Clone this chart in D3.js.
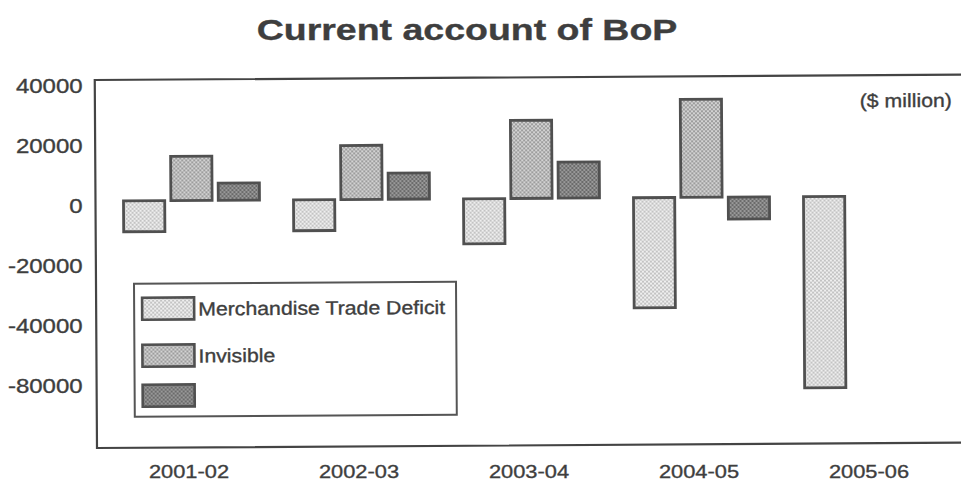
<!DOCTYPE html>
<html>
<head>
<meta charset="utf-8">
<script src="https://cdn.jsdelivr.net/npm/d3@7"></script>
<style>
  html, body { margin: 0; padding: 0; background: #fff; }
  svg { display: block; font-family: "Liberation Sans", Arial, sans-serif; }
  .ink { fill: #3e3e3e; stroke: #3e3e3e; stroke-width: 0.35px; }
</style>
</head>
<body>
<div id="chart"></div>
<script>
// values ($ million)
const years = ['2001-02', '2002-03', '2003-04', '2004-05', '2005-06'];
const merchandise = [-10300, -10300, -15000, -36700, -63700];
const invisible = [14700, 18000, 26000, 32700, null];
const currentAccount = [5700, 8700, 12000, -7300, null];
const seriesNames = ['Merchandise Trade Deficit', 'Invisible', ''];
const tickValues = [40000, 20000, 0, -20000, -40000, -60000];
const tickLabels = ['40000', '20000', '0', '-20000', '-40000', '-80000'];

const W = 961, H = 481;
const FRAME = { left: 97, top: 80, bottom: 448, right: 961 };

const svg = d3.select('#chart').append('svg')
  .attr('width', W).attr('height', H);

// dotted screen fills, like the printed original
const defs = svg.append('defs');
const screens = [
  { id: 'p-merch', bg: '#efefef', dot: '#8c8c8c', r: 0.8 },
  { id: 'p-invis', bg: '#9c9c9c', dot: '#e6e6e6', r: 1.0 },
  { id: 'p-ca',    bg: '#6a6a6a', dot: '#b0b0b0', r: 0.9 }
];
screens.forEach(s => {
  const p = defs.append('pattern').attr('id', s.id)
    .attr('patternUnits', 'userSpaceOnUse').attr('width', 4).attr('height', 4);
  p.append('rect').attr('width', 4).attr('height', 4).attr('fill', s.bg);
  p.append('circle').attr('cx', 1).attr('cy', 1).attr('r', s.r).attr('fill', s.dot);
  p.append('circle').attr('cx', 3).attr('cy', 3).attr('r', s.r).attr('fill', s.dot);
});
const fills = ['url(#p-merch)', 'url(#p-invis)', 'url(#p-ca)'];

const x0 = d3.scaleBand().domain(years).range([108, 958]).paddingInner(0.2).paddingOuter(0.1);
const x1 = d3.scaleBand().domain([0, 1, 2]).range([0, x0.bandwidth()]).paddingInner(0.13);
const y = d3.scaleLinear().domain([-82300, 40000]).range([FRAME.bottom, FRAME.top + 1]);

// title
svg.append('text')
  .attr('class', 'ink')
  .attr('transform', `translate(467,40) scale(1.25,1)`)
  .attr('text-anchor', 'middle')
  .style('font-size', '30px').style('font-weight', 'bold')
  .text('Current account of BoP');

// y axis labels (only the plot area carries the scan's tilt)
const yAxis = svg.append('g')
  .attr('transform', `translate(${FRAME.left},5.5) scale(1.2,1)`)
  .call(d3.axisLeft(y).tickValues(tickValues).tickSize(0).tickPadding(12)
    .tickFormat((d, i) => tickLabels[i]));
yAxis.select('.domain').remove();
yAxis.selectAll('text')
  .attr('class', 'ink')
  .attr('fill', null)
  .style('font-size', '20px').style('font-family', '"Liberation Sans", Arial, sans-serif');

// x labels
svg.append('g').selectAll('text')
  .data(years)
  .join('text')
    .attr('class', 'ink')
    .attr('transform', d => `translate(${x0(d) + x0.bandwidth() / 2 - 4},478) scale(1.15,1)`)
    .attr('text-anchor', 'middle')
    .style('font-size', '19px')
    .text(d => d);

// plot area, tilted slightly like the scan
const plot = svg.append('g')
  .attr('transform', `rotate(-0.35,${FRAME.left},${FRAME.bottom})`);

plot.append('path')
  .attr('d', `M${FRAME.right + 10},${FRAME.top}H${FRAME.left}V${FRAME.bottom}H${FRAME.right + 10}`)
  .attr('fill', 'none').attr('stroke', '#444').attr('stroke-width', 2.2);

const rows = years.map((yr, i) => ({
  year: yr,
  vals: [merchandise[i], invisible[i], currentAccount[i]]
}));

plot.append('g').selectAll('g')
  .data(rows)
  .join('g')
    .attr('transform', d => `translate(${x0(d.year)},0)`)
  .selectAll('rect')
  .data(d => d.vals.map((v, k) => ({ k, v })).filter(e => e.v !== null))
  .join('rect')
    .attr('x', e => x1(e.k))
    .attr('width', x1.bandwidth())
    .attr('y', e => y(Math.max(0, e.v)))
    .attr('height', e => Math.abs(y(e.v) - y(0)))
    .attr('fill', e => fills[e.k])
    .attr('stroke', '#505050').attr('stroke-width', 2.8);

// unit note
plot.append('text')
  .attr('class', 'ink')
  .attr('transform', 'translate(954,112) scale(1.12,1)')
  .attr('text-anchor', 'end')
  .style('font-size', '19px')
  .text('($ million)');

// legend
const legend = plot.append('g').attr('transform', 'translate(135,284)');
legend.append('rect')
  .attr('width', 322).attr('height', 133)
  .attr('fill', '#fff').attr('stroke', '#555').attr('stroke-width', 2);
const rowY = [14, 61, 101];
const item = legend.selectAll('g.item')
  .data(seriesNames)
  .join('g').attr('class', 'item')
    .attr('transform', (d, i) => `translate(8,${rowY[i]})`);
item.append('rect')
  .attr('width', 52).attr('height', 22)
  .attr('fill', (d, i) => fills[i])
  .attr('stroke', '#505050').attr('stroke-width', 2.6);
item.append('text')
  .attr('class', 'ink')
  .attr('transform', 'translate(56,18) scale(1.12,1)')
  .style('font-size', '19px')
  .text(d => d);
</script>
</body>
</html>
